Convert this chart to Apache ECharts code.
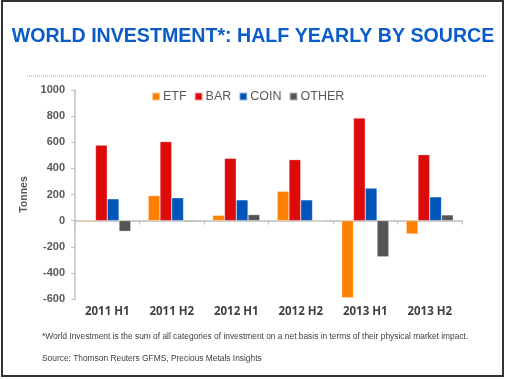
<!DOCTYPE html>
<html>
<head>
<meta charset="utf-8">
<script src="https://cdn.jsdelivr.net/npm/echarts@6/dist/echarts.min.js"></script>
<style>html,body{margin:0;padding:0;background:#fff}#c{width:506px;height:379px}</style>
</head>
<body>
<div id="c"></div>
<script>
const categories = ['2011 H1','2011 H2','2012 H1','2012 H2','2013 H1','2013 H2'];
const etf   = [-8, 192, 41, 225, -590, -102];
const bar   = [578, 605, 477, 467, 785, 505];
const coin  = [167, 175, 159, 159, 249, 182];
const other = [-82, -8, 46, -5, -277, 44];
const yTicks = {min: -600, max: 1000, interval: 200};

const chart = echarts.init(document.getElementById('c'));
const seriesDefs = [
  {name:'ETF', data: etf, color:'#ff8000'},
  {name:'BAR', data: bar, color:'#dd0a0a'},
  {name:'COIN', data: coin, color:'#0055bb'},
  {name:'OTHER', data: other, color:'#555555'}
];
chart.setOption({
  animation: false,
  title: {
    text: 'WORLD INVESTMENT*: HALF YEARLY BY SOURCE',
    left: 'center', top: 22,
    textStyle: {color:'#0a5cc8', fontFamily:'Liberation Sans, Arial', fontWeight:'bold', fontSize:19.6}
  },
  legend: {
    top: 85, left: 146, itemWidth: 8, itemHeight: 8, itemGap: 7,
    icon: 'rect',
    textStyle: {color:'#595959', fontSize:12.5, fontFamily:'Liberation Sans, Arial', padding:[0,0,0,-2]},
    data: ['ETF','BAR','COIN','OTHER']
  },
  grid: {left: 75, right: 44, top: 90, bottom: 80},
  xAxis: [
    {type:'category', data: categories,
     axisLine:{onZero:true, lineStyle:{color:'#bfbfbf', width:1.5}},
     axisTick:{show:true, length:4, lineStyle:{color:'#bfbfbf'}},
     axisLabel:{show:false}},
    {type:'category', data: categories, position:'bottom',
     axisLine:{show:false}, axisTick:{show:false},
     axisLabel:{color:'#404040', fontWeight:'bold', fontSize:11.5, fontFamily:'Open Sans, Liberation Sans', margin:7}}
  ],
  yAxis: {
    type:'value', min: yTicks.min, max: yTicks.max, interval: yTicks.interval,
    name:'Tonnes', nameLocation:'middle', nameGap:36, nameRotate:90,
    nameTextStyle:{color:'#595959', fontWeight:'bold', fontSize:10.5, fontFamily:'Liberation Sans, Arial'},
    axisLine:{show:true, lineStyle:{color:'#bfbfbf', width:1.5}},
    axisTick:{show:true, length:4, lineStyle:{color:'#bfbfbf'}},
    splitLine:{show:false},
    axisLabel:{color:'#595959', fontWeight:'bold', fontSize:11, fontFamily:'Liberation Sans, Arial', margin:10,
      formatter: v => String(v)}
  },
  series: seriesDefs.map(s => ({
    name: s.name, type:'bar', data: s.data, xAxisIndex:0,
    barGap:'0%', barCategoryGap:'27%',
    itemStyle:{color:s.color, borderColor:'rgba(255,255,255,0.6)', borderWidth:0.5}
  })),
  graphic: [
    {type:'rect', shape:{x:2, y:1, width:501, height:375}, style:{fill:'none', stroke:'#333', lineWidth:2}, silent:true},
    {type:'line', shape:{x1:27, y1:76, x2:487, y2:76}, style:{stroke:'#999', lineWidth:1, lineDash:[1,1]}, silent:true},
    {type:'text', left:42, top:333, style:{text:'*World Investment is the sum of all categories of investment on a net basis in terms of their physical market impact.', fill:'#404040', fontSize:8.4, fontFamily:'Liberation Sans, Arial'}},
    {type:'text', left:42, top:355, style:{text:'Source: Thomson Reuters GFMS, Precious Metals Insights', fill:'#404040', fontSize:8.4, fontFamily:'Liberation Sans, Arial'}}
  ]
});
</script>
</body>
</html>
